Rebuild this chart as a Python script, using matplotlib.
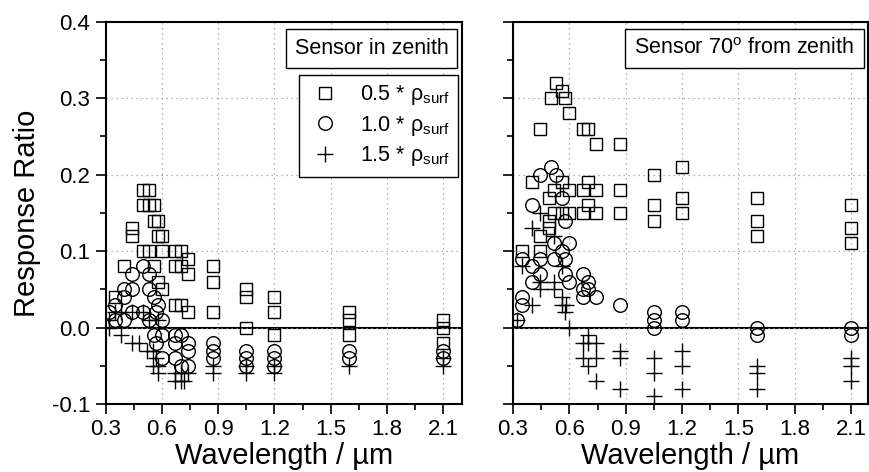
import numpy as np
import matplotlib.pyplot as plt
from matplotlib.lines import Line2D
from matplotlib.ticker import MultipleLocator, FormatStrFormatter

plt.rcParams['font.family'] = ['Liberation Sans', 'DejaVu Sans']
plt.rcParams['mathtext.fontset'] = 'custom'
plt.rcParams['mathtext.rm'] = 'Liberation Sans'
plt.rcParams['axes.unicode_minus'] = False

# response ratios, sensor looking straight down: (wavelength in um, ratio)
zen_05 = [(0.50, 0.18), (0.53, 0.18), (0.50, 0.16), (0.53, 0.16), (0.56, 0.16),
          (0.56, 0.14), (0.58, 0.14), (0.44, 0.13), (0.44, 0.12), (0.58, 0.12),
          (0.60, 0.12), (0.50, 0.10), (0.53, 0.10), (0.60, 0.10), (0.67, 0.10),
          (0.70, 0.10), (0.74, 0.09), (0.40, 0.08), (0.56, 0.08), (0.67, 0.08),
          (0.70, 0.08), (0.87, 0.08), (0.74, 0.07), (0.58, 0.06), (0.87, 0.06),
          (0.60, 0.05), (1.05, 0.05), (0.35, 0.04), (1.05, 0.04), (1.20, 0.04),
          (0.67, 0.03), (0.70, 0.03), (0.74, 0.02), (0.87, 0.02), (1.20, 0.02),
          (1.60, 0.02), (1.60, 0.01), (2.10, 0.01), (1.05, 0.00), (2.10, 0.00),
          (1.20, -0.01), (1.60, -0.01), (2.10, -0.02)]
zen_10 = [(0.50, 0.08), (0.44, 0.07), (0.53, 0.07), (0.40, 0.05), (0.44, 0.05),
          (0.53, 0.05), (0.40, 0.04), (0.56, 0.04), (0.35, 0.03), (0.58, 0.03),
          (0.32, 0.02), (0.44, 0.02), (0.50, 0.02), (0.57, 0.02), (0.35, 0.01),
          (0.40, 0.01), (0.53, 0.01), (0.60, 0.01), (0.56, -0.01), (0.60, -0.01),
          (0.67, -0.01), (0.70, -0.01), (0.57, -0.02), (0.67, -0.02), (0.74, -0.02),
          (0.87, -0.02), (0.74, -0.03), (0.87, -0.03), (1.05, -0.03), (1.20, -0.03),
          (1.60, -0.03), (2.10, -0.03), (0.60, -0.04), (0.67, -0.04), (0.87, -0.04),
          (1.05, -0.04), (1.20, -0.04), (1.60, -0.04), (2.10, -0.04), (0.70, -0.05),
          (0.74, -0.05), (1.05, -0.05), (1.20, -0.05)]
zen_15 = [(0.32, 0.01), (0.32, 0.00), (0.35, 0.02), (0.38, 0.02), (0.44, 0.02),
          (0.50, 0.02), (0.53, 0.01), (0.58, 0.01), (0.38, -0.01), (0.44, -0.02),
          (0.48, -0.02), (0.52, -0.03), (0.55, -0.03), (0.57, -0.04), (0.55, -0.05),
          (0.58, -0.05), (0.58, -0.06), (0.67, -0.06), (0.70, -0.06), (0.74, -0.06),
          (0.67, -0.07), (0.70, -0.07), (0.72, -0.07), (0.87, -0.05), (0.87, -0.06),
          (1.05, -0.05), (1.05, -0.06), (1.20, -0.05), (1.20, -0.06), (1.60, -0.05),
          (2.10, -0.04), (2.10, -0.05)]

# same, sensor tilted 70 degrees
off_05 = [(0.53, 0.32), (0.56, 0.31), (0.50, 0.30), (0.575, 0.30), (0.60, 0.28),
          (0.445, 0.26), (0.67, 0.26), (0.70, 0.26), (0.74, 0.24), (0.87, 0.24),
          (0.40, 0.19), (0.56, 0.19), (0.70, 0.19), (0.52, 0.18), (0.60, 0.18),
          (0.67, 0.18), (0.74, 0.18), (0.87, 0.18), (0.49, 0.17), (0.70, 0.16),
          (0.52, 0.15), (0.56, 0.15), (0.60, 0.15), (0.67, 0.15), (0.74, 0.15),
          (0.87, 0.15), (0.49, 0.14), (0.49, 0.13), (0.445, 0.12), (0.35, 0.10),
          (0.445, 0.10), (1.05, 0.20), (1.05, 0.16), (1.05, 0.14), (1.20, 0.21),
          (1.20, 0.17), (1.20, 0.15), (1.60, 0.17), (1.60, 0.14), (1.60, 0.12),
          (2.10, 0.16), (2.10, 0.13), (2.10, 0.11)]
off_10 = [(0.50, 0.21), (0.445, 0.20), (0.53, 0.20), (0.56, 0.17), (0.40, 0.16),
          (0.575, 0.14), (0.52, 0.11), (0.60, 0.11), (0.56, 0.10), (0.35, 0.09),
          (0.445, 0.09), (0.52, 0.09), (0.575, 0.09), (0.40, 0.08), (0.445, 0.07),
          (0.575, 0.07), (0.675, 0.07), (0.40, 0.06), (0.60, 0.06), (0.70, 0.06),
          (0.675, 0.05), (0.70, 0.05), (0.35, 0.04), (0.675, 0.04), (0.74, 0.04),
          (0.35, 0.03), (0.87, 0.03), (0.32, 0.01), (1.05, 0.02), (1.05, 0.01),
          (1.05, 0.00), (1.20, 0.02), (1.20, 0.01), (1.60, 0.00), (1.60, -0.01),
          (2.10, 0.00), (2.10, -0.01)]
off_15 = [(0.40, 0.13), (0.445, 0.15), (0.52, 0.12), (0.35, 0.08), (0.56, 0.08),
          (0.445, 0.06), (0.52, 0.06), (0.445, 0.05), (0.52, 0.05), (0.56, 0.04),
          (0.40, 0.03), (0.56, 0.03), (0.58, 0.03), (0.575, 0.02), (0.32, 0.01),
          (0.60, 0.00), (0.70, -0.01), (0.67, -0.02), (0.70, -0.02), (0.74, -0.02),
          (0.67, -0.04), (0.74, -0.04), (0.70, -0.05), (0.74, -0.07), (0.87, -0.03),
          (0.87, -0.04), (0.87, -0.08), (1.05, -0.04), (1.05, -0.06), (1.05, -0.09),
          (1.20, -0.03), (1.20, -0.05), (1.20, -0.08), (1.60, -0.05), (1.60, -0.06),
          (1.60, -0.08), (2.10, -0.04), (2.10, -0.05), (2.10, -0.07)]

labels = ['0.5 * ρ$_{\\mathrm{surf}}$', '1.0 * ρ$_{\\mathrm{surf}}$',
          '1.5 * ρ$_{\\mathrm{surf}}$']
markers = [dict(marker='s', ms=8.5), dict(marker='o', ms=9.8), dict(marker='+', ms=11)]

fig = plt.figure(figsize=(8.7, 4.72), dpi=100)
ax1 = fig.add_axes([0.1215, 0.144, 0.4095, 0.810])
ax2 = fig.add_axes([0.5897, 0.144, 0.408, 0.810])


def draw(ax, series, title, xmax, tx):
    for pts, m in zip(series, markers):
        a = np.array(pts)
        ax.plot(a[:, 0], a[:, 1], ls='none', mfc='none', mec='k', mew=1.0, **m)
    ax.axhline(0, color='k', lw=1.5, zorder=1)
    ax.set_xlim(0.3, xmax)
    ax.set_ylim(-0.1, 0.4)
    ax.xaxis.set_major_locator(MultipleLocator(0.3))
    ax.xaxis.set_minor_locator(MultipleLocator(0.15))
    ax.yaxis.set_major_locator(MultipleLocator(0.1))
    ax.yaxis.set_minor_locator(MultipleLocator(0.05))
    ax.xaxis.set_major_formatter(FormatStrFormatter('%.1f'))
    ax.yaxis.set_major_formatter(FormatStrFormatter('%.1f'))
    ax.grid(True, which='major', color='#9a9a9a', lw=0.9, ls=(0, (1, 3)))
    ax.tick_params(which='both', direction='out', width=1.2, labelsize=16,
                   top=False, right=False, pad=4)
    ax.tick_params(which='major', length=7)
    ax.tick_params(which='minor', length=4)
    for s in ax.spines.values():
        s.set_linewidth(1.5)
    ax.set_xlabel('Wavelength / µm', fontsize=21, labelpad=1)
    ax.text(tx, 0.93, title, transform=ax.transAxes, ha='center', va='center',
            fontsize=15.5, zorder=5,
            bbox=dict(boxstyle='square,pad=0.42', fc='w', ec='k', lw=1))


draw(ax1, [zen_05, zen_10, zen_15], 'Sensor in zenith', 2.2, 0.746)
draw(ax2, [off_05, off_10, off_15], 'Sensor 70$^{\\mathrm{o}}$ from zenith', 2.19, 0.652)
ax1.set_ylabel('Response Ratio', fontsize=21, labelpad=8)
ax2.tick_params(axis='y', labelleft=False)

handles = [Line2D([], [], ls='none', mfc='none', mec='k', mew=1.0, **m) for m in markers]
leg = ax1.legend(handles, labels, loc='upper right', bbox_to_anchor=(0.989, 0.861),
                 fontsize=15.5, frameon=True, fancybox=False, framealpha=1,
                 edgecolor='k', borderpad=0.4, labelspacing=0.3, handletextpad=0.8,
                 handlelength=1.6, borderaxespad=0)
leg.get_frame().set_linewidth(1)

fig.savefig('out.png', dpi=100)
